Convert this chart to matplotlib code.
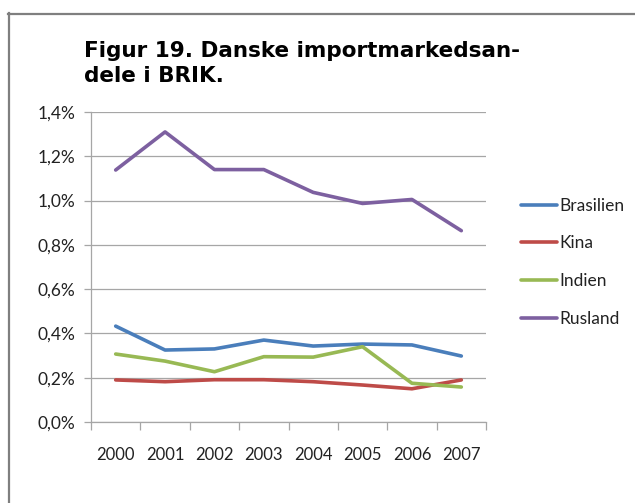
import matplotlib
matplotlib.use("Agg")
import matplotlib.pyplot as plt
import numpy as np
from matplotlib.lines import Line2D

years = ["2000", "2001", "2002", "2003", "2004", "2005", "2006", "2007"]
brasilien = [0.433, 0.325, 0.330, 0.370, 0.343, 0.352, 0.348, 0.298]
kina = [0.190, 0.182, 0.191, 0.191, 0.182, 0.167, 0.150, 0.190]
indien = [0.307, 0.275, 0.227, 0.295, 0.293, 0.340, 0.175, 0.158]
rusland = [1.138, 1.310, 1.140, 1.140, 1.037, 0.987, 1.005, 0.864]
series_names = ["Brasilien", "Kina", "Indien", "Rusland"]
colors = ["#4A7EBB", "#BE4B48", "#98B954", "#7D60A0"]
yticks = [0.0, 0.2, 0.4, 0.6, 0.8, 1.0, 1.2, 1.4]
title_lines = ["Figur 19. Danske importmarkedsan-", "dele i BRIK."]

W, H = 635, 503
fig = plt.figure(figsize=(W / 100, H / 100), dpi=100)
fig.patch.set_facecolor("white")

# frame lines (left and top)
fig.add_artist(Line2D([8.5 / W, 8.5 / W], [0, 1 - 13 / H], color="#7f7f7f", lw=1.6, transform=fig.transFigure))
fig.add_artist(Line2D([8 / W, 1], [1 - 13.5 / H, 1 - 13.5 / H], color="#7f7f7f", lw=1.6, transform=fig.transFigure))

for i, line in enumerate(title_lines):
    fig.text(84 / W, 1 - (57 + 25 * i) / H, line, fontsize=15.5, fontweight="bold",
             family="DejaVu Sans", va="baseline", ha="left")

left, right, top, bottom = 91, 486, 112, 422
ax = fig.add_axes([left / W, 1 - bottom / H, (right - left) / W, (bottom - top) / H])
x = np.arange(len(years))
data = [brasilien, kina, indien, rusland]
for name, vals, c in zip(series_names, data, colors):
    ax.plot(x, vals, color=c, lw=2.6, label=name, solid_capstyle="round", solid_joinstyle="round")

ax.set_xlim(-0.5, len(years) - 0.5)
ax.set_ylim(0, 1.4)
ax.set_yticks(yticks)
ax.set_yticklabels([f"{v:.1f}%".replace(".", ",") for v in yticks])
ax.yaxis.grid(True, color="#a6a6a6", lw=0.9)
ax.set_axisbelow(True)
ax.set_xticks(x)
ax.set_xticklabels(years)
ax.set_xticks(np.arange(-0.5, len(years)), minor=True)
ax.tick_params(axis="x", which="major", length=0, pad=18, labelsize=12, colors="#222222")
ax.tick_params(axis="x", which="minor", length=6, color="#a6a6a6", width=0.9)
ax.tick_params(axis="y", length=5, color="#a6a6a6", width=0.9, labelsize=12.5, colors="#222222", pad=6)
for lab in ax.get_xticklabels() + ax.get_yticklabels():
    lab.set_family("Lato")
for s in ["top", "right"]:
    ax.spines[s].set_visible(False)
for s in ["left", "bottom"]:
    ax.spines[s].set_color("#a6a6a6")
    ax.spines[s].set_linewidth(0.9)

leg = fig.legend(loc="upper left", bbox_to_anchor=(505 / W, 1 - 182 / H), frameon=False,
                 handlelength=2.1, handletextpad=0.15, labelspacing=1.25, prop={"family": "Lato", "size": 12.5})
for t in leg.get_texts():
    t.set_color("#222222")

fig.savefig("out.png", dpi=100)
